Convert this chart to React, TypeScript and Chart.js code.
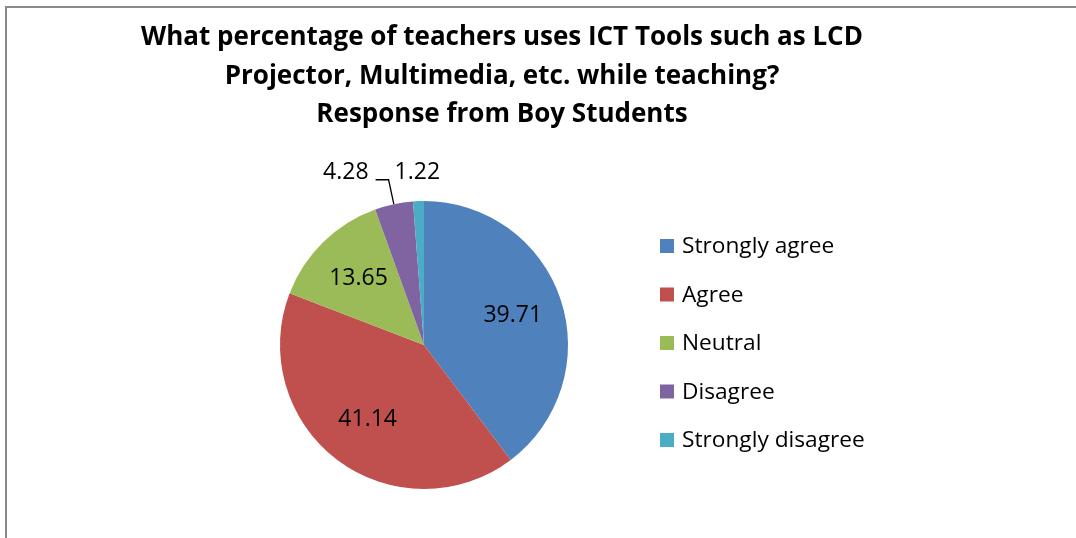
import React, { useEffect, useRef } from "react";
import { Chart, registerables } from "chart.js";

Chart.register(...registerables);

const categories = ["Strongly agree", "Agree", "Neutral", "Disagree", "Strongly disagree"];
const values = [39.71, 41.14, 13.65, 4.28, 1.22];
const sliceColors = ["#4F81BD", "#C0504D", "#9BBB59", "#8064A2", "#4BACC6"];
const titleLines = [
  "What percentage of teachers uses ICT Tools such as LCD",
  "Projector, Multimedia, etc. while teaching?",
  "Response from Boy Students",
];

const FONT = "'Open Sans', 'Liberation Sans', sans-serif";

const decorPlugin = {
  id: "decor",
  afterDraw(chart: any) {
    const ctx = chart.ctx as CanvasRenderingContext2D;
    const W = chart.width;
    const H = chart.height;
    ctx.save();
    // frame
    ctx.strokeStyle = "#898989";
    ctx.lineWidth = 2;
    ctx.beginPath();
    ctx.moveTo(6, H + 2);
    ctx.lineTo(6, 7);
    ctx.lineTo(W + 2, 7);
    ctx.stroke();

    // title
    ctx.fillStyle = "#000";
    ctx.font = `bold 26px ${FONT}`;
    ctx.textAlign = "center";
    ctx.textBaseline = "middle";
    titleLines.forEach((t, i) => ctx.fillText(t, 502, 38 + i * 38.5));

    // legend
    const meta = chart.getDatasetMeta(0);
    ctx.font = `22.7px ${FONT}`;
    ctx.textAlign = "left";
    categories.forEach((c, i) => {
      const y = 246 + i * 48.5;
      ctx.fillStyle = sliceColors[i];
      ctx.fillRect(660, y - 7, 14, 14);
      ctx.fillStyle = "#000";
      ctx.fillText(c, 682, y + 1);
    });

    // data labels
    ctx.font = `23px ${FONT}`;
    meta.data.forEach((arc: any, i: number) => {
      const { x, y, startAngle, endAngle, outerRadius } = arc.getProps(
        ["x", "y", "startAngle", "endAngle", "outerRadius"],
        true
      );
      const mid = (startAngle + endAngle) / 2;
      const cos = Math.cos(mid);
      const sin = Math.sin(mid);
      const txt = values[i].toFixed(2);
      ctx.fillStyle = "#000";
      if (values[i] > 10) {
        const r = outerRadius * 0.65;
        ctx.textAlign = "center";
        ctx.fillText(txt, x + cos * r, y + sin * r);
      } else if (i === categories.length - 1) {
        const r = outerRadius + 29;
        ctx.textAlign = "center";
        ctx.fillText(txt, x + cos * r, y + sin * r);
      } else {
        const px = x + cos * outerRadius;
        const py = y + sin * outerRadius;
        const ex = x + cos * (outerRadius + 25);
        const ey = y + sin * (outerRadius + 25);
        ctx.strokeStyle = "#000";
        ctx.lineWidth = 1.3;
        ctx.beginPath();
        ctx.moveTo(px, py);
        ctx.lineTo(ex, ey);
        ctx.lineTo(ex - 13, ey);
        ctx.stroke();
        ctx.textAlign = "right";
        ctx.fillText(txt, ex - 20, ey - 7);
      }
    });
    ctx.restore();
  },
};

export default function App() {
  const ref = useRef<HTMLCanvasElement>(null);
  useEffect(() => {
    document.body.style.margin = "0";
    const chart = new Chart(ref.current as HTMLCanvasElement, {
      type: "pie",
      data: {
        labels: categories,
        datasets: [
          {
            data: values,
            backgroundColor: sliceColors,
            borderWidth: 0,
          },
        ],
      },
      options: {
        responsive: false,
        animation: false,
        layout: { padding: { left: 280, right: 508, top: 201, bottom: 49 } },
        plugins: {
          legend: { display: false },
          tooltip: { enabled: false },
          title: { display: false },
        },
      },
      plugins: [decorPlugin],
    });
    return () => chart.destroy();
  }, []);
  return (
    <div style={{ position: "fixed", left: 0, top: 0, width: 1076, height: 538, background: "#fff" }}>
      <canvas ref={ref} width={1076} height={538} style={{ width: 1076, height: 538 }} />
    </div>
  );
}
